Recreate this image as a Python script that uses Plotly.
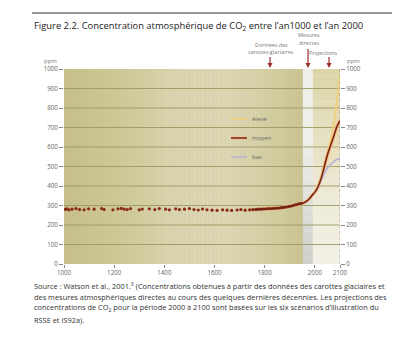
import plotly.graph_objects as go

# ---------------- data ----------------
ice_years = [1005, 1012, 1020, 1032, 1048, 1062, 1080, 1098, 1120, 1150, 1160, 1195,
             1215, 1228, 1240, 1252, 1265, 1300, 1312, 1340, 1362, 1380, 1405, 1420,
             1445, 1460, 1480, 1500, 1518, 1535, 1552, 1570, 1590, 1610, 1632, 1650,
             1668, 1690, 1705, 1722, 1740, 1752, 1765, 1775, 1785, 1795, 1805, 1815,
             1825, 1835, 1845, 1855, 1865, 1875, 1885, 1895, 1905, 1915, 1925, 1935, 1945]
ice_ppm = [280, 283, 278, 281, 284, 279, 278, 283, 281, 284, 279, 278,
           283, 285, 281, 279, 284, 278, 282, 283, 279, 284, 281, 278,
           283, 279, 281, 284, 279, 277, 282, 278, 276, 275, 278, 276,
           275, 277, 279, 276, 278, 279, 280, 281, 281, 282, 283, 284,
           284, 285, 286, 287, 289, 290, 292, 295, 297, 301, 305, 308, 311]

curve_years = [1750, 1800, 1850, 1900, 1925, 1950, 1960, 1970, 1980, 1990, 2000]
curve_ppm = [278, 282, 286, 296, 303, 311, 317, 325, 338, 354, 368]

proj_years = [2000, 2012, 2025, 2050, 2075, 2088, 2100]
proj_high = [368, 400, 450, 570, 720, 845, 970]
proj_mid = [368, 395, 440, 560, 655, 705, 735]
proj_low = [368, 392, 430, 492, 524, 536, 541]

x_ticks = [1000, 1200, 1400, 1600, 1800, 2000, 2100]
y_ticks = [0, 100, 200, 300, 400, 500, 600, 700, 800, 900, 1000]

title_text = "Figure 2.2. Concentration atmosphérique de CO<sub>2</sub> entre l\u2019an1000 et l\u2019an 2000"
source_lines = [
    "Source : Watson et al., 2001.<sup>3</sup> (Concentrations obtenues à partir des données des carottes glaciaires et",
    "des mesures atmosphériques directes au cours des quelques dernières décennies. Les projections des",
    "concentrations de CO<sub>2</sub> pour la période 2000 à 2100 sont basées sur les six scénarios d\u2019illustration du",
    "RSSE et IS92a).",
]
legend_names = ["élevé", "moyen", "bas"]

# ---------------- layout geometry ----------------
W, H = 404, 342
L, R, T, B = 64, 64, 69, 78
PW, PH = W - L - R, H - T - B


def px(x):
    return (x - L) / PW


def py(y):
    return (H - B - y) / PH


FONT = "Open Sans"
GREY = "#666666"

fig = go.Figure()

# ---------------- backgrounds ----------------
shapes = []


def hexmix(c1, c2, t):
    a = [int(c1[i:i + 2], 16) for i in (1, 3, 5)]
    b = [int(c2[i:i + 2], 16) for i in (1, 3, 5)]
    return "#%02x%02x%02x" % tuple(round(a[k] + (b[k] - a[k]) * t) for k in range(3))


stops = [(1000, "#c6bf8a"), (1200, "#cdc795"), (1450, "#d8d3ac"),
         (1650, "#dad5b0"), (1850, "#d1cb9e"), (1952, "#c9c291")]
n = 60
x0, x1 = 1000, 1952
for i in range(n):
    a = x0 + (x1 - x0) * i / n
    b = x0 + (x1 - x0) * (i + 1) / n
    m = (a + b) / 2
    for j in range(len(stops) - 1):
        if stops[j][0] <= m <= stops[j + 1][0]:
            t = (m - stops[j][0]) / (stops[j + 1][0] - stops[j][0])
            col = hexmix(stops[j][1], stops[j + 1][1], t)
    shapes.append(dict(type="rect", xref="x", yref="y", x0=a, x1=b + 1.5, y0=0, y1=1000,
                       fillcolor=col, line_width=0, layer="below"))

nv = 30
for i in range(nv):
    y0 = 1000 * i / nv
    y1 = 1000 * (i + 1) / nv
    t = i / (nv - 1)
    shapes.append(dict(type="rect", xref="x", yref="y", x0=1952, x1=1992, y0=y0, y1=y1 + 1,
                       fillcolor=hexmix("#cfcfcc", "#efefea", min(1, t * 1.6)),
                       line_width=0, layer="below"))
    shapes.append(dict(type="rect", xref="x", yref="y", x0=1992, x1=2100, y0=y0, y1=y1 + 1,
                       fillcolor=hexmix("#f2f0e4", "#dcd5a8", t ** 1.4),
                       line_width=0, layer="below"))

# horizontal grid lines
for v in y_ticks[1:-1]:
    shapes.append(dict(type="line", xref="x", yref="y", x0=1000, x1=2100, y0=v, y1=v,
                       line=dict(color="#9c9862", width=0.9), layer="below"))

# right dashed axis
shapes.append(dict(type="line", xref="x", yref="y", x0=2100, x1=2100, y0=0, y1=1000,
                   line=dict(color="#8a8a8a", width=0.8, dash="dot")))

# top rule
shapes.append(dict(type="line", xref="paper", yref="paper", x0=px(32), x1=px(392),
                   y0=py(13), y1=py(13), line=dict(color="#333333", width=1)))

# arrows
arrow_col = "#9b2c2c"
for ax, ytop in [(270, 57), (308, 49), (329, 57)]:
    shapes.append(dict(type="line", xref="paper", yref="paper", x0=px(ax), x1=px(ax),
                       y0=py(ytop), y1=py(64), line=dict(color=arrow_col, width=1.2)))
    shapes.append(dict(type="path", xref="paper", yref="paper",
                       path="M %f %f L %f %f L %f %f Z" % (px(ax - 2.5), py(63), px(ax + 2.5), py(63), px(ax), py(68)),
                       fillcolor=arrow_col, line_width=0))

# legend line samples
leg_cols = ["#f2cf73", "#7c2612", "#b8b0d8"]
for k, yy in enumerate([119, 138, 157]):
    if k == 1:
        shapes.append(dict(type="line", xref="paper", yref="paper", x0=px(231), x1=px(247),
                           y0=py(yy), y1=py(yy), line=dict(color="#f3b98a", width=3)))
    shapes.append(dict(type="line", xref="paper", yref="paper", x0=px(231), x1=px(247),
                       y0=py(yy), y1=py(yy), line=dict(color=leg_cols[k], width=1.5)))

# ---------------- traces ----------------
fig.add_trace(go.Scatter(x=proj_years, y=proj_low, mode="lines", line=dict(width=0),
                         showlegend=False, hoverinfo="skip"))
fig.add_trace(go.Scatter(x=proj_years, y=proj_high, mode="lines", line=dict(width=0),
                         fill="tonexty", fillcolor="rgba(245,200,140,0.18)",
                         showlegend=False, hoverinfo="skip"))

fig.add_trace(go.Scatter(x=curve_years + proj_years[1:], y=curve_ppm + proj_mid[1:], mode="lines",
                         line=dict(color="#f3b685", width=3.4, shape="spline"),
                         showlegend=False, hoverinfo="skip"))
fig.add_trace(go.Scatter(x=ice_years, y=ice_ppm, mode="markers",
                         marker=dict(color="#8a2a17", size=3.2, line=dict(width=0)),
                         showlegend=False))
fig.add_trace(go.Scatter(x=curve_years, y=curve_ppm, mode="lines",
                         line=dict(color="#6e2210", width=1.6, shape="spline"),
                         showlegend=False))
fig.add_trace(go.Scatter(x=proj_years, y=proj_high, mode="lines",
                         line=dict(color=leg_cols[0], width=1.5, shape="spline"),
                         name=legend_names[0], showlegend=False))
fig.add_trace(go.Scatter(x=proj_years, y=proj_low, mode="lines",
                         line=dict(color=leg_cols[2], width=1.5, shape="spline"),
                         name=legend_names[2], showlegend=False))
fig.add_trace(go.Scatter(x=proj_years, y=proj_mid, mode="lines",
                         line=dict(color=leg_cols[1], width=1.6, shape="spline"),
                         name=legend_names[1], showlegend=False))
fig.add_trace(go.Scatter(x=[2100], y=[0], yaxis="y2", mode="markers",
                         marker=dict(opacity=0), showlegend=False, hoverinfo="skip"))

# ---------------- annotations ----------------
ann = []
ann.append(dict(text=title_text, x=px(32), y=py(26), xref="paper", yref="paper",
                xanchor="left", yanchor="middle", showarrow=False,
                font=dict(family=FONT, size=9.4, color="#222222")))
for i, line in enumerate(source_lines):
    ann.append(dict(text=line, x=px(32), y=py(285 + i * 11.6), xref="paper", yref="paper",
                    xanchor="left", yanchor="middle", showarrow=False,
                    font=dict(family=FONT, size=7.4, color="#333333")))
small = dict(family=FONT, size=5.4, color="#777777")
for txt, x, y in [("Données des", 271, 45), ("carottes glaciaires", 271, 52),
                  ("Mesures", 309, 35), ("directes", 309, 43), ("Projections", 323, 53)]:
    ann.append(dict(text=txt, x=px(x), y=py(y), xref="paper", yref="paper",
                    xanchor="center", yanchor="middle", showarrow=False, font=small))
ann.append(dict(text="ppm", x=px(50), y=py(61), xref="paper", yref="paper", xanchor="center",
                yanchor="middle", showarrow=False, font=dict(family=FONT, size=6, color="#777777")))
ann.append(dict(text="ppm", x=px(353), y=py(61), xref="paper", yref="paper", xanchor="center",
                yanchor="middle", showarrow=False, font=dict(family=FONT, size=6, color="#777777")))
for name, yy in zip(legend_names, [119, 138, 157]):
    ann.append(dict(text=name, x=px(250), y=py(yy), xref="paper", yref="paper",
                    xanchor="left", yanchor="middle", showarrow=False,
                    font=dict(family=FONT, size=6, color="#666666")))

tickfont = dict(family=FONT, size=6.2, color=GREY)
fig.update_layout(
    width=W, height=H,
    margin=dict(l=L, r=R, t=T, b=B, pad=0),
    paper_bgcolor="white", plot_bgcolor="white",
    showlegend=False,
    shapes=shapes, annotations=ann,
    xaxis=dict(range=[1000, 2100], tickvals=x_ticks, ticktext=[str(v) for v in x_ticks],
               showgrid=False, zeroline=False, showline=False, ticks="outside", ticklen=3,
               tickcolor="#888888", tickfont=tickfont, fixedrange=True),
    yaxis=dict(range=[0, 1000], tickvals=y_ticks, showgrid=False, zeroline=False,
               showline=False, ticks="outside", ticklen=4, tickcolor="#888888",
               tickfont=tickfont, fixedrange=True),
    yaxis2=dict(range=[0, 1000], tickvals=y_ticks, overlaying="y", side="right",
                showgrid=False, zeroline=False, showline=False, ticks="outside", ticklen=4,
                tickcolor="#888888", tickfont=tickfont, fixedrange=True),
)

fig.write_html("out.html")
